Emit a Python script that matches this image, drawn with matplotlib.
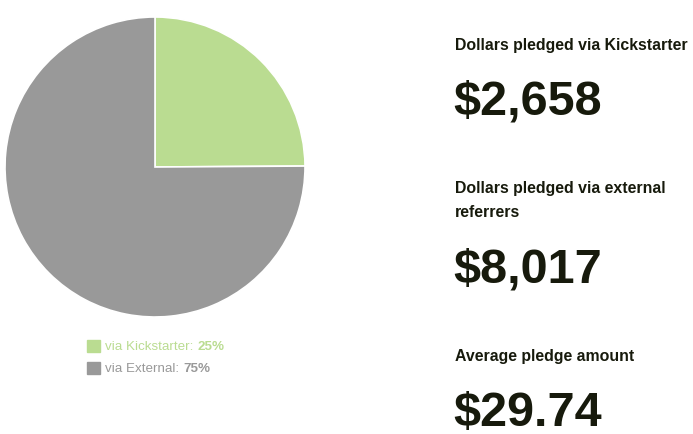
import matplotlib.pyplot as plt

labels = ['via Kickstarter', 'via External']
dollars = [2658, 8017]
shares = [25, 75]
colors = ['#badc91', '#999999']

headings = [['Dollars pledged via Kickstarter'],
            ['Dollars pledged via external', 'referrers'],
            ['Average pledge amount']]
values = ['$2,658', '$8,017', '$29.74']

W, H = 693, 435
fig = plt.figure(figsize=(W / 100, H / 100), dpi=100)
plt.rcParams['font.family'] = ['Liberation Sans', 'DejaVu Sans']

# pie: center (155,168) radius 150 px
ax = fig.add_axes([5 / W, (H - 318) / H, 300 / W, 300 / H])
ax.pie(dollars, colors=colors, startangle=90, counterclock=False,
       wedgeprops=dict(edgecolor='white', linewidth=1.2))
ax.set_xlim(-1.0, 1.0)
ax.set_ylim(-1.0, 1.0)
ax.set_aspect('equal')
ax.axis('off')

# legend
for i, (lab, sh, c) in enumerate(zip(labels, shares, colors)):
    y = 347 + i * 22
    fig.patches.append(plt.Rectangle((87 / W, 1 - (y + 6) / H), 13 / W, 12 / H,
                                     transform=fig.transFigure, color=c))
    t = fig.text(105 / W, 1 - y / H, lab + ': ', color=c, fontsize=9.6, va='center')
    fig.canvas.draw()
    bb = t.get_window_extent()
    fig.text(bb.x1 / W, 1 - y / H, '%d%%' % sh, color=c, fontsize=9.6,
             fontweight='bold', va='center')

# right column
dark = '#171a0c'
head_y = [50, 193, 361]
val_y = [114, 283, 426]
for lines, hy, v, vy in zip(headings, head_y, values, val_y):
    for k, line in enumerate(lines):
        fig.text(455 / W, 1 - (hy + 24 * k) / H, line, fontsize=11.4,
                 fontweight='bold', color=dark, va='baseline')
    fig.text(453 / W, 1 - vy / H, v, fontsize=35, fontweight='bold', color=dark,
             va='baseline')

fig.savefig('out.png', dpi=100)
